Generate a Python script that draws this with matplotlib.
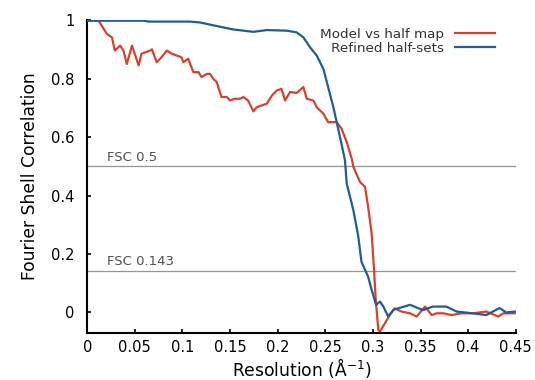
import matplotlib
matplotlib.use('Agg')
import matplotlib.pyplot as plt

# Model vs half map (red)
red_x = [0.0, 0.012, 0.0206, 0.026, 0.029, 0.0346, 0.038, 0.0416, 0.047, 0.054, 0.057, 0.066, 0.068,
         0.073, 0.078, 0.0836, 0.089, 0.094, 0.099, 0.101, 0.106, 0.1115, 0.117, 0.12, 0.1256, 0.129,
         0.1325, 0.136, 0.141, 0.1466, 0.15, 0.155, 0.1605, 0.164, 0.169, 0.1745, 0.178, 0.183, 0.1886,
         0.194, 0.199, 0.204, 0.2078, 0.213, 0.22, 0.227, 0.2306, 0.2375, 0.241, 0.248, 0.253, 0.262,
         0.267, 0.2725, 0.2778, 0.2795, 0.2865, 0.2917, 0.295, 0.2987, 0.301, 0.303, 0.3057, 0.3075,
         0.3127, 0.318, 0.323, 0.33, 0.339, 0.346, 0.3547, 0.3617, 0.367, 0.374, 0.3827, 0.393, 0.4054,
         0.419, 0.4316, 0.437, 0.449]
red_y = [1.0, 0.998, 0.953, 0.941, 0.896, 0.913, 0.896, 0.85, 0.913, 0.845, 0.885, 0.896, 0.90,
         0.856, 0.873, 0.896, 0.885, 0.879, 0.873, 0.856, 0.868, 0.822, 0.822, 0.805, 0.816, 0.816,
         0.799, 0.788, 0.737, 0.737, 0.725, 0.731, 0.731, 0.737, 0.725, 0.688, 0.702, 0.708, 0.714,
         0.742, 0.759, 0.765, 0.725, 0.754, 0.751, 0.771, 0.731, 0.725, 0.702, 0.68, 0.651, 0.651,
         0.629, 0.583, 0.526, 0.498, 0.446, 0.43, 0.361, 0.27, 0.156, 0.043, -0.06, -0.065,
         -0.037, -0.008, 0.014, 0.003, -0.003, -0.014, 0.02, -0.009, -0.003, -0.003, -0.009, -0.003, -0.003,
         0.003, -0.014, -0.003, -0.003]

# Refined half-sets (blue)
blue_x = [0.0, 0.059, 0.065, 0.108, 0.1186, 0.1256, 0.143, 0.1535, 0.1745, 0.1886, 0.2096, 0.22,
          0.227, 0.234, 0.241, 0.248, 0.253, 0.2585, 0.262, 0.267, 0.2707, 0.2725, 0.2795, 0.2847,
          0.288, 0.295, 0.2987, 0.3033, 0.3075, 0.311, 0.316, 0.3215, 0.339, 0.3526, 0.363, 0.377,
          0.388, 0.402, 0.419, 0.433, 0.44, 0.449]
blue_y = [0.998, 0.998, 0.995, 0.995, 0.992, 0.987, 0.975, 0.968, 0.96, 0.966, 0.964, 0.958,
          0.941, 0.907, 0.879, 0.833, 0.771, 0.702, 0.651, 0.577, 0.52, 0.441, 0.35, 0.259,
          0.173, 0.122, 0.077, 0.026, 0.037, 0.02, -0.014, 0.009, 0.026, 0.008, 0.02, 0.02,
          0.003, -0.002, -0.009, 0.015, 0.0, 0.003]

fsc_levels = [0.5, 0.143]
fsc_labels = ['FSC 0.5', 'FSC 0.143']

fig = plt.figure(figsize=(5.35, 3.8), dpi=100)
ax = fig.add_axes([0.163, 0.124, 0.801, 0.823])

for lvl, lab in zip(fsc_levels, fsc_labels):
    ax.axhline(lvl, color='#959595', lw=0.9, zorder=1)
    ax.text(0.021, lvl + 0.008, lab, color='#505050', fontsize=9.5, va='bottom')

ax.plot(red_x, red_y, color='#d4432e', lw=1.6, label='Model vs half map', zorder=3)
ax.plot(blue_x, blue_y, color='#215d8f', lw=1.6, label='Refined half-sets', zorder=3)

ax.set_xlim(0, 0.45)
ax.set_ylim(-0.07, 1.0)
ax.set_xticks([0, 0.05, 0.1, 0.15, 0.2, 0.25, 0.3, 0.35, 0.4, 0.45])
ax.set_xticklabels(['0', '0.05', '0.1', '0.15', '0.2', '0.25', '0.3', '0.35', '0.4', '0.45'])
ax.set_yticks([0, 0.2, 0.4, 0.6, 0.8, 1.0])
ax.set_yticklabels(['0', '0.2', '0.4', '0.6', '0.8', '1'])
ax.tick_params(direction='in', length=3, width=1.2, labelsize=10.5)
ax.tick_params(axis='y', pad=9)
ax.tick_params(axis='x', pad=5)
ax.spines['top'].set_visible(False)
ax.spines['right'].set_visible(False)
ax.spines['left'].set_linewidth(1.5)
ax.spines['bottom'].set_linewidth(1.5)

ax.set_xlabel('Resolution (Å$^{-1}$)', fontsize=12.3, labelpad=1)
ax.set_ylabel('Fourier Shell Correlation', fontsize=12.3, labelpad=9)

leg = ax.legend(frameon=False, markerfirst=False, loc='upper right', bbox_to_anchor=(0.98, 1.015),
                fontsize=9.7, handlelength=3, labelspacing=0.1)
for t in leg.get_texts():
    t.set_color('#333333')

fig.savefig('out.png', dpi=100)
